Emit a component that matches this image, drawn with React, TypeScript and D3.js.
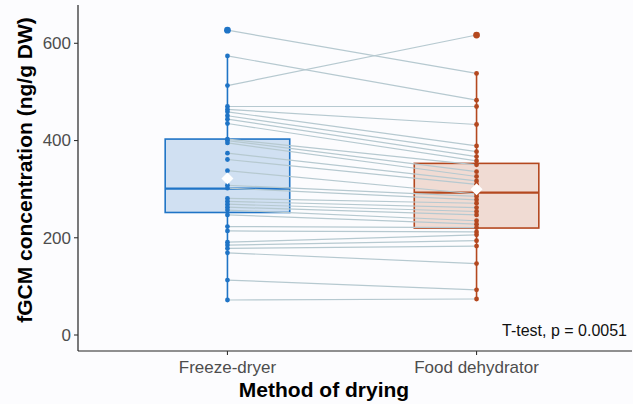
import React from "react";
import * as d3 from "d3";

const categories = ["Freeze-dryer", "Food dehydrator"];
// paired samples (same index = same sample)
const freezeDryer = [627, 574, 513, 470, 464, 459, 451, 444, 435, 403, 400, 395, 374, 361, 338, 308, 302, 281, 275, 269, 263, 257, 247, 223, 214, 191, 185, 178, 169, 113, 72];
const foodDehydrator = [538, 483, 617, 470, 433, 389, 377, 367, 358, 350, 336, 326, 317, 310, 290, 285, 278, 271, 262, 254, 247, 235, 228, 221, 212, 206, 194, 183, 147, 93, 74];
// box summaries: [freeze-dryer, food dehydrator]
const boxQ1 = [252, 220];
const boxMedian = [301, 293];
const boxQ3 = [403, 353];
const whiskerLow = [72, 74];
const whiskerHigh = [574, 538];
const groupMeans = [322, 300];
const yTicks = [0, 200, 400, 600];
const annotation = "T-test, p = 0.0051";

const W = 633, H = 404;
const left = 78, right = 626, top = 5, bottom = 351;
const colors = ["#1f74c6", "#b4481f"];
const fills = ["#d0e0f2", "#f0dbd3"];

export default function App() {
  const x = d3.scalePoint<string>().domain(categories).range([left, right]).padding(0.6);
  const y = d3.scaleLinear().domain([0, 600]).range([335, 43.3]);
  const step = x.step();
  const bw = step * 0.5;
  const series = [freezeDryer, foodDehydrator];
  const xs = categories.map((c) => x(c) as number);
  const font = "Liberation Sans, Arial, sans-serif";

  return (
    <svg width={W} height={H} style={{ position: "absolute", left: 0, top: 0 }} fontFamily={font}>
      <rect x={0} y={0} width={W} height={H} fill="#fcfcfe" />
      {/* boxes */}
      {categories.map((c, i) => (
        <g key={"box" + i}>
          <line x1={xs[i]} x2={xs[i]} y1={y(whiskerHigh[i])} y2={y(boxQ3[i])} stroke={colors[i]} strokeWidth={1.6} />
          <line x1={xs[i]} x2={xs[i]} y1={y(boxQ1[i])} y2={y(whiskerLow[i])} stroke={colors[i]} strokeWidth={1.6} />
          <rect x={xs[i] - bw / 2} y={y(boxQ3[i])} width={bw} height={y(boxQ1[i]) - y(boxQ3[i])} fill={fills[i]} stroke={colors[i]} strokeWidth={1.6} />
          <line x1={xs[i] - bw / 2} x2={xs[i] + bw / 2} y1={y(boxMedian[i])} y2={y(boxMedian[i])} stroke={colors[i]} strokeWidth={2.2} />
        </g>
      ))}
      {/* paired lines */}
      {freezeDryer.map((v, j) => (
        <line key={"l" + j} x1={xs[0]} x2={xs[1]} y1={y(v)} y2={y(foodDehydrator[j])} stroke="#b6c9d0" strokeWidth={1.2} />
      ))}
      {/* points */}
      {series.map((arr, i) =>
        arr.map((v, j) => {
          const out = v > whiskerHigh[i] || v < whiskerLow[i];
          return <circle key={"p" + i + "-" + j} cx={xs[i]} cy={y(v)} r={out ? 3.4 : 2.4} fill={colors[i]} />;
        })
      )}
      {/* means */}
      {groupMeans.map((m, i) => {
        const cx = xs[i], cy = y(m), s = 6;
        return <path key={"m" + i} d={`M${cx},${cy - s}L${cx + s},${cy}L${cx},${cy + s}L${cx - s},${cy}Z`} fill="#ffffff" />;
      })}
      {/* axes */}
      <line x1={left} x2={left} y1={top} y2={bottom} stroke="#222" strokeWidth={1.2} />
      <line x1={left} x2={W - 1} y1={bottom} y2={bottom} stroke="#222" strokeWidth={1.2} />
      {yTicks.map((t) => (
        <g key={"yt" + t}>
          <line x1={left - 4} x2={left} y1={y(t)} y2={y(t)} stroke="#333" strokeWidth={1.1} />
          <text x={left - 7} y={y(t)} dy="0.35em" textAnchor="end" fontSize={17} fill="#4d4d4d">{t}</text>
        </g>
      ))}
      {categories.map((c, i) => (
        <g key={"xt" + i}>
          <line x1={xs[i]} x2={xs[i]} y1={bottom} y2={bottom + 4} stroke="#333" strokeWidth={1.1} />
          <text x={xs[i]} y={373} textAnchor="middle" fontSize={17} fill="#4d4d4d">{c}</text>
        </g>
      ))}
      <text x={324} y={397} textAnchor="middle" fontSize={21} fontWeight="bold" fill="#000">Method of drying</text>
      <text transform={`translate(32,${(top + bottom) / 2 - 8}) rotate(-90)`} textAnchor="middle" fontSize={21} fontWeight="bold" fill="#000">fGCM concentration (ng/g DW)</text>
      <text x={627} y={336} textAnchor="end" fontSize={16} fill="#111">{annotation}</text>
    </svg>
  );
}
